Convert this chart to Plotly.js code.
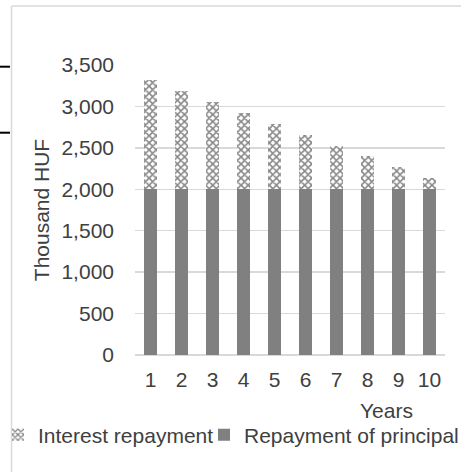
<!DOCTYPE html>
<html>
<head>
<meta charset="utf-8">
<script src="https://cdn.plot.ly/plotly-3.0.1.min.js"></script>
<style>
  html, body { margin: 0; padding: 0; background: #fff; }
  #chart { width: 461px; height: 472px; }
</style>
</head>
<body>
<div id="chart"></div>
<script>
// ---- data ----
const years = [1, 2, 3, 4, 5, 6, 7, 8, 9, 10];
const principalRepayment = [2000, 2000, 2000, 2000, 2000, 2000, 2000, 2000, 2000, 2000];
const interestRepayment = [1320, 1188, 1056, 924, 792, 660, 528, 396, 264, 132];
const seriesNames = ['Interest repayment', 'Repayment of principal'];
const yTickValues = [0, 500, 1000, 1500, 2000, 2500, 3000, 3500];
const yAxisTitle = 'Thousand HUF';
const xAxisTitle = 'Years';

// ---- layout geometry ----
const W = 461, H = 472;
const M = { l: 135, r: 16, t: 65, b: 117, autoexpand: false };
const PW = W - M.l - M.r, PH = H - M.t - M.b;
const px = x => (x - M.l) / PW;           // pixel -> paper x
const py = y => (H - M.b - y) / PH;       // pixel -> paper y

const font = { family: '"Liberation Sans", Arial, sans-serif', size: 21, color: '#404040' };

const traces = [
  {
    type: 'bar', name: seriesNames[1], x: years, y: principalRepayment,
    marker: { color: '#808080', line: { width: 0 } },
    legend: 'legend2', hoverinfo: 'x+y'
  },
  {
    type: 'bar', name: seriesNames[0], x: years, y: interestRepayment,
    marker: {
      color: '#ffffff', line: { width: 0 },
      pattern: { shape: 'x', fgcolor: '#111111', bgcolor: '#ffffff', size: 5, solidity: 0.55, fillmode: 'overlay' }
    },
    legend: 'legend', hoverinfo: 'x+y'
  }
];

const layout = {
  width: W, height: H,
  margin: M,
  paper_bgcolor: '#ffffff', plot_bgcolor: '#ffffff',
  font: font,
  barmode: 'stack',
  bargap: 0.57,
  showlegend: true,
  xaxis: {
    range: [0.5, 10.5], tickvals: years, ticktext: years.map(String),
    showgrid: false, zeroline: false, showline: false, ticks: '',
    ticklabelstandoff: 10, tickfont: font, fixedrange: true
  },
  yaxis: {
    range: [0, 3500], tickvals: yTickValues, tickformat: ',d',
    showgrid: true, gridcolor: '#d9d9d9', gridwidth: 1.3,
    zeroline: true, zerolinecolor: '#d9d9d9', zerolinewidth: 1.3,
    showline: false, ticks: '', ticklabelstandoff: 20, tickfont: font,
    title: { text: yAxisTitle, font: font, standoff: 6 }, fixedrange: true
  },
  legend: {
    orientation: 'h', x: px(-2), xanchor: 'left', y: py(435), yanchor: 'middle',
    font: font, bgcolor: 'rgba(0,0,0,0)', itemwidth: 30, tracegroupgap: 0
  },
  legend2: {
    orientation: 'h', x: px(204), xanchor: 'left', y: py(435), yanchor: 'middle',
    font: font, bgcolor: 'rgba(0,0,0,0)', itemwidth: 30, tracegroupgap: 0
  },
  annotations: [
    { text: xAxisTitle, xref: 'paper', yref: 'paper', x: px(386.5), y: py(410),
      xanchor: 'center', yanchor: 'middle', showarrow: false, font: font }
  ],
  shapes: [
    { type: 'line', xref: 'paper', yref: 'paper', x0: px(11.5), x1: px(11.5), y0: py(6), y1: py(H + 2),
      line: { color: '#d9d9d9', width: 1.5 } },
    { type: 'line', xref: 'paper', yref: 'paper', x0: px(11.5), x1: px(W + 2), y0: py(6), y1: py(6),
      line: { color: '#d9d9d9', width: 1.5 } },
    { type: 'line', xref: 'paper', yref: 'paper', x0: px(0), x1: px(10), y0: py(66.7), y1: py(66.7),
      line: { color: '#000000', width: 2 } },
    { type: 'line', xref: 'paper', yref: 'paper', x0: px(0), x1: px(10), y0: py(132.7), y1: py(132.7),
      line: { color: '#000000', width: 2 } }
  ]
};

Plotly.newPlot('chart', traces, layout, { displayModeBar: false, staticPlot: true });
</script>
</body>
</html>
